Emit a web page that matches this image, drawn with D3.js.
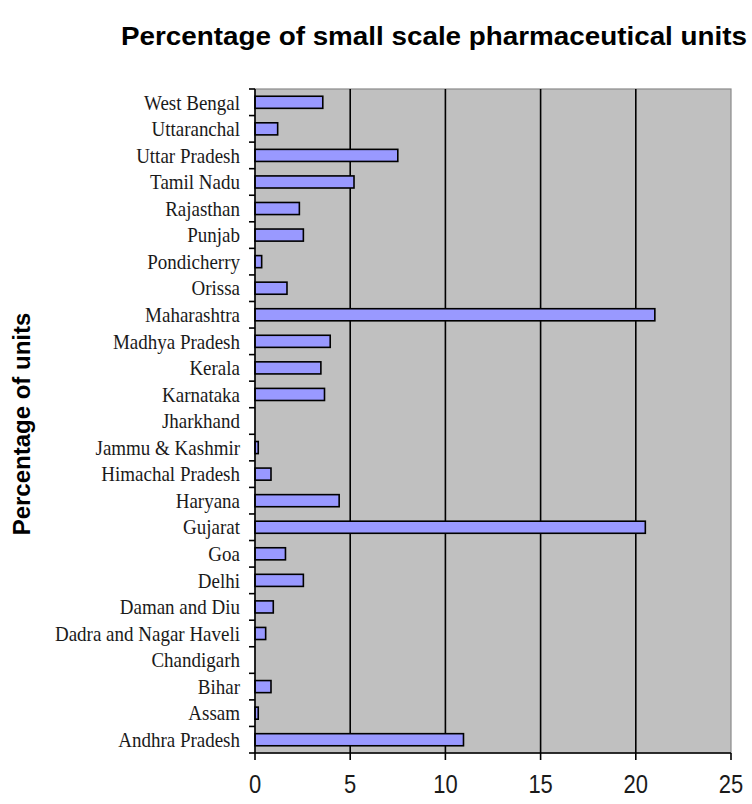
<!DOCTYPE html>
<html>
<head>
<meta charset="utf-8">
<script src="https://cdn.jsdelivr.net/npm/d3@7"></script>
<style>
  html, body { margin: 0; padding: 0; background: #ffffff; }
  svg { display: block; }
</style>
</head>
<body>
<svg id="chart" width="752" height="804"></svg>
<script>
// States, listed from the bottom of the chart upwards
const states = [
  "Andhra Pradesh", "Assam", "Bihar", "Chandigarh", "Dadra and Nagar Haveli",
  "Daman and Diu", "Delhi", "Goa", "Gujarat", "Haryana",
  "Himachal Pradesh", "Jammu & Kashmir", "Jharkhand", "Karnataka", "Kerala",
  "Madhya Pradesh", "Maharashtra", "Orissa", "Pondicherry", "Punjab",
  "Rajasthan", "Tamil Nadu", "Uttar Pradesh", "Uttaranchal", "West Bengal"
];
// Share of small scale pharmaceutical units (%)
const shares = [
  10.95, 0.17, 0.84, 0, 0.56,
  0.96, 2.54, 1.6, 20.5, 4.42,
  0.84, 0.17, 0, 3.65, 3.46,
  3.95, 21.0, 1.68, 0.35, 2.54,
  2.33, 5.2, 7.5, 1.19, 3.56
];
const xTicks = [0, 5, 10, 15, 20, 25];

const titleText = "Percentage of small scale pharmaceutical units";
const yTitleText = "Percentage of units";

const svg = d3.select("#chart");
const plot = { left: 255, right: 731, top: 89, bottom: 753 };

const x = d3.scaleLinear().domain([0, 25]).range([plot.left, plot.right]);
const y = d3.scaleBand()
  .domain(states.slice().reverse())
  .range([plot.top, plot.bottom])
  .paddingInner(0.545)
  .paddingOuter(0.2725);

// Plot area background
svg.append("rect")
  .attr("x", plot.left).attr("y", plot.top)
  .attr("width", plot.right - plot.left).attr("height", plot.bottom - plot.top)
  .attr("fill", "#c0c0c0")
  .attr("stroke", "#8a8a8a").attr("stroke-width", 1.2);

// Vertical gridlines
svg.append("g")
  .selectAll("line")
  .data(xTicks.filter(d => d > 0 && d < 25))
  .join("line")
  .attr("x1", d => x(d)).attr("x2", d => x(d))
  .attr("y1", plot.top).attr("y2", plot.bottom)
  .attr("stroke", "#000").attr("stroke-width", 1.6);

// Bars
svg.append("g")
  .selectAll("rect")
  .data(states.map((s, i) => ({ s, v: shares[i] })).filter(d => d.v > 0))
  .join("rect")
  .attr("x", x(0))
  .attr("y", d => y(d.s))
  .attr("width", d => x(d.v) - x(0))
  .attr("height", y.bandwidth())
  .attr("fill", "#9999ff")
  .attr("stroke", "#000").attr("stroke-width", 1.6);

// Category axis: ticks between categories
const boundaries = d3.range(states.length + 1).map(i => plot.top + i * (plot.bottom - plot.top) / states.length);
const yAxis = svg.append("g");
yAxis.append("line")
  .attr("x1", plot.left).attr("x2", plot.left)
  .attr("y1", plot.top).attr("y2", plot.bottom)
  .attr("stroke", "#000").attr("stroke-width", 1.6);
yAxis.selectAll("line.tick")
  .data(boundaries)
  .join("line").attr("class", "tick")
  .attr("x1", plot.left - 6).attr("x2", plot.left)
  .attr("y1", d => d).attr("y2", d => d)
  .attr("stroke", "#000").attr("stroke-width", 1.6);

// Category labels (tall, narrow serif)
yAxis.selectAll("g.lbl")
  .data(states)
  .join("g").attr("class", "lbl")
  .attr("transform", d => `translate(240,${y(d) + y.bandwidth() / 2}) scale(1,1.12)`)
  .append("text")
  .attr("text-anchor", "end")
  .attr("dy", "0.34em")
  .attr("font-family", "'Liberation Serif', 'DejaVu Serif', serif")
  .attr("font-size", 19)
  .attr("fill", "#1a1a1a")
  .text(d => d);

// Value axis
const xAxis = svg.append("g");
xAxis.append("line")
  .attr("x1", plot.left).attr("x2", plot.right)
  .attr("y1", plot.bottom).attr("y2", plot.bottom)
  .attr("stroke", "#000").attr("stroke-width", 1.6);
xAxis.selectAll("line.tick")
  .data(xTicks)
  .join("line").attr("class", "tick")
  .attr("x1", d => x(d)).attr("x2", d => x(d))
  .attr("y1", plot.bottom).attr("y2", plot.bottom + 7)
  .attr("stroke", "#000").attr("stroke-width", 1.6);
xAxis.selectAll("g.lbl")
  .data(xTicks)
  .join("g").attr("class", "lbl")
  .attr("transform", d => `translate(${x(d)},793) scale(1,1.2)`)
  .append("text")
  .attr("text-anchor", "middle")
  .attr("font-family", "'Liberation Sans', Arial, sans-serif")
  .attr("font-size", 22)
  .attr("fill", "#1a1a1a")
  .text(d => d);

// Chart title
svg.append("text")
  .attr("x", 121).attr("y", 45)
  .attr("font-family", "'Liberation Sans', Arial, sans-serif")
  .attr("font-weight", "bold")
  .attr("font-size", 25)
  .attr("textLength", 626)
  .attr("lengthAdjust", "spacingAndGlyphs")
  .attr("fill", "#000")
  .text(titleText);

// Value axis title, rotated
svg.append("text")
  .attr("transform", `translate(30,${(plot.top + plot.bottom) / 2 + 3}) rotate(-90)`)
  .attr("text-anchor", "middle")
  .attr("font-family", "'Liberation Sans', Arial, sans-serif")
  .attr("font-weight", "bold")
  .attr("font-size", 24)
  .attr("fill", "#000")
  .text(yTitleText);
</script>
</body>
</html>
